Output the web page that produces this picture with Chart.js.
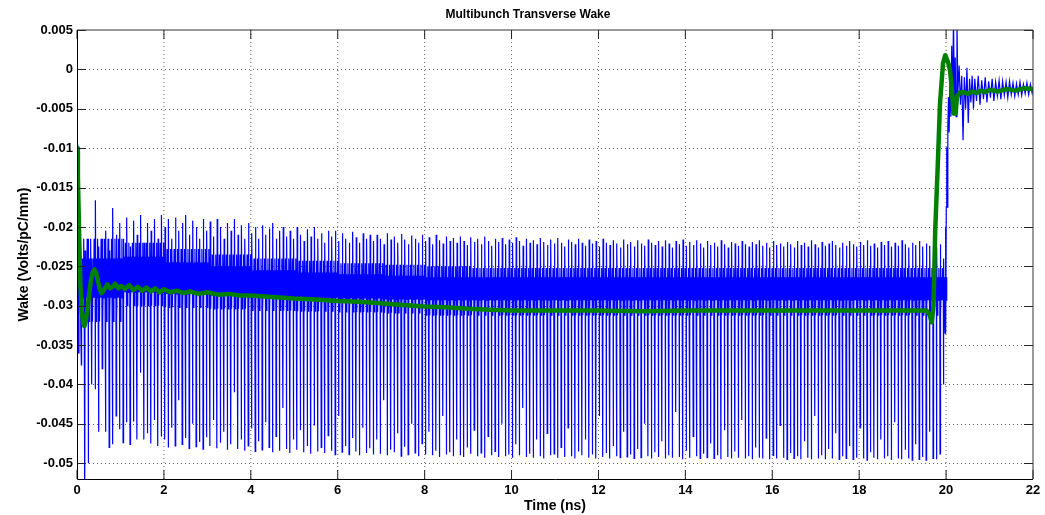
<!DOCTYPE html>
<html>
<head>
<meta charset="utf-8">
<script src="https://cdn.jsdelivr.net/npm/chart.js@4.4.1/dist/chart.umd.min.js"></script>
<style>
html,body{margin:0;padding:0;background:#fff;}
#wrap{width:1045px;height:515px;position:relative;}
canvas{display:block;}
</style>
</head>
<body>
<div id="wrap"><canvas id="c" width="1045" height="515"></canvas></div>
<script>
// ---------------- DATA ----------------
const chartTitle = 'Multibunch Transverse Wake';
const xAxisTitle = 'Time (ns)';
const yAxisTitle = 'Wake (Volts/pC/mm)';

const xTickValues = [0, 2, 4, 6, 8, 10, 12, 14, 16, 18, 20, 22];
const xTickLabels = ['0', '2', '4', '6', '8', '10', '12', '14', '16', '18', '20', '22'];
const yTickValues = [-0.05, -0.045, -0.04, -0.035, -0.03, -0.025, -0.02, -0.015, -0.01, -0.005, 0, 0.005];
const yTickLabels = ['-0.05', '-0.045', '-0.04', '-0.035', '-0.03', '-0.025', '-0.02', '-0.015', '-0.01', '-0.005', '0', '0.005'];

// blue wake: start of the trace (ns, V/pC/mm)
const blueHeadT = [0.000, 0.015, 0.030, 0.045, 0.060, 0.080];
const blueHeadV = [-0.0095, -0.0130, -0.0360, -0.0200, -0.0260, -0.0300];

// blue wake: bunch train (one down-spike and one up-spike per bunch)
const bunchStart = 0.10;    // ns, first bunch
const bunchSpacing = 0.08;  // ns
const bunchLow = [
 -0.0375,-0.0560,-0.0500,-0.0400,-0.0406,-0.0460,-0.0380,-0.0460,-0.0480,-0.0476,-0.0440,-0.0457,
 -0.0474,-0.0448,-0.0476,-0.0447,-0.0470,-0.0385,-0.0470,-0.0462,-0.0475,-0.0445,-0.0478,-0.0466,
 -0.0470,-0.0480,-0.0455,-0.0478,-0.0420,-0.0476,-0.0468,-0.0481,-0.0450,-0.0479,-0.0473,-0.0482,
 -0.0467,-0.0478,-0.0445,-0.0481,-0.0474,-0.0460,-0.0483,-0.0476,-0.0410,-0.0482,-0.0470,-0.0484,
 -0.0478,-0.0456,-0.0485,-0.0472,-0.0483,-0.0448,-0.0480,-0.0486,-0.0466,-0.0484,-0.0430,-0.0482,
 -0.0487,-0.0470,-0.0483,-0.0458,-0.0486,-0.0478,-0.0488,-0.0452,-0.0485,-0.0480,-0.0487,-0.0465,
 -0.0484,-0.0489,-0.0440,-0.0486,-0.0478,-0.0489,-0.0468,-0.0485,-0.0490,-0.0455,-0.0487,-0.0481,
 -0.0489,-0.0470,-0.0488,-0.0420,-0.0490,-0.0483,-0.0486,-0.0462,-0.0491,-0.0479,-0.0489,-0.0450,
 -0.0487,-0.0491,-0.0475,-0.0489,-0.0460,-0.0490,-0.0484,-0.0492,-0.0440,-0.0489,-0.0486,-0.0491,
 -0.0470,-0.0490,-0.0492,-0.0480,-0.0488,-0.0458,-0.0491,-0.0487,-0.0493,-0.0466,-0.0490,-0.0485,
 -0.0492,-0.0450,-0.0491,-0.0489,-0.0493,-0.0476,-0.0490,-0.0430,-0.0492,-0.0488,-0.0493,-0.0470,
 -0.0491,-0.0494,-0.0462,-0.0490,-0.0488,-0.0493,-0.0480,-0.0492,-0.0455,-0.0491,-0.0494,-0.0485,
 -0.0490,-0.0470,-0.0493,-0.0489,-0.0494,-0.0440,-0.0492,-0.0487,-0.0494,-0.0478,-0.0491,-0.0493,
 -0.0460,-0.0492,-0.0489,-0.0494,-0.0482,-0.0493,-0.0450,-0.0491,-0.0494,-0.0486,-0.0492,-0.0472,
 -0.0494,-0.0490,-0.0493,-0.0435,-0.0492,-0.0495,-0.0484,-0.0493,-0.0466,-0.0491,-0.0494,-0.0488,
 -0.0493,-0.0475,-0.0494,-0.0490,-0.0495,-0.0458,-0.0492,-0.0494,-0.0485,-0.0493,-0.0445,-0.0494,
 -0.0491,-0.0495,-0.0480,-0.0493,-0.0494,-0.0468,-0.0495,-0.0490,-0.0494,-0.0452,-0.0493,-0.0495,
 -0.0487,-0.0494,-0.0491,-0.0495,-0.0472,-0.0493,-0.0495,-0.0440,-0.0494,-0.0490,-0.0495,-0.0482,
 -0.0494,-0.0462,-0.0495,-0.0491,-0.0494,-0.0478,-0.0495,-0.0493,-0.0455,-0.0494,-0.0496,-0.0486,
 -0.0493,-0.0495,-0.0470,-0.0494,-0.0491,-0.0496,-0.0448,-0.0494,-0.0495,-0.0483,-0.0494,-0.0496,
 -0.0476,-0.0495,-0.0492,-0.0496,-0.0460,-0.0494,-0.0495,-0.0488,-0.0400
];
const bunchHigh = [
 -0.0240,-0.0230,-0.0215,-0.0250,-0.0166,-0.0225,-0.0215,-0.0205,-0.0230,-0.0176,-0.0210,-0.0195,
 -0.0215,-0.0188,-0.0225,-0.0192,-0.0210,-0.0185,-0.0220,-0.0195,-0.0205,-0.0190,-0.0215,-0.0185,
 -0.0200,-0.0190,-0.0215,-0.0188,-0.0205,-0.0195,-0.0185,-0.0210,-0.0192,-0.0200,-0.0215,-0.0190,
 -0.0205,-0.0193,-0.0212,-0.0190,-0.0200,-0.0215,-0.0195,-0.0205,-0.0190,-0.0210,-0.0198,-0.0215,
 -0.0195,-0.0208,-0.0200,-0.0215,-0.0198,-0.0210,-0.0202,-0.0195,-0.0215,-0.0205,-0.0200,-0.0212,
 -0.0205,-0.0215,-0.0200,-0.0210,-0.0218,-0.0203,-0.0212,-0.0200,-0.0215,-0.0208,-0.0220,-0.0205,
 -0.0212,-0.0205,-0.0218,-0.0208,-0.0215,-0.0220,-0.0206,-0.0213,-0.0220,-0.0208,-0.0215,-0.0210,
 -0.0218,-0.0210,-0.0215,-0.0222,-0.0208,-0.0216,-0.0212,-0.0220,-0.0209,-0.0216,-0.0222,-0.0211,
 -0.0215,-0.0220,-0.0210,-0.0218,-0.0213,-0.0222,-0.0210,-0.0217,-0.0221,-0.0212,-0.0218,-0.0214,
 -0.0220,-0.0212,-0.0218,-0.0223,-0.0213,-0.0219,-0.0215,-0.0222,-0.0212,-0.0218,-0.0224,-0.0215,
 -0.0219,-0.0214,-0.0222,-0.0216,-0.0220,-0.0213,-0.0218,-0.0224,-0.0215,-0.0220,-0.0217,-0.0222,
 -0.0214,-0.0219,-0.0223,-0.0216,-0.0221,-0.0214,-0.0220,-0.0225,-0.0216,-0.0219,-0.0222,-0.0215,
 -0.0220,-0.0224,-0.0216,-0.0221,-0.0218,-0.0225,-0.0215,-0.0220,-0.0223,-0.0217,-0.0221,-0.0226,
 -0.0216,-0.0222,-0.0219,-0.0225,-0.0217,-0.0221,-0.0224,-0.0216,-0.0220,-0.0223,-0.0218,-0.0225,
 -0.0217,-0.0221,-0.0226,-0.0218,-0.0222,-0.0216,-0.0224,-0.0219,-0.0223,-0.0217,-0.0221,-0.0226,
 -0.0218,-0.0223,-0.0220,-0.0225,-0.0217,-0.0222,-0.0226,-0.0219,-0.0221,-0.0224,-0.0218,-0.0222,
 -0.0225,-0.0219,-0.0222,-0.0217,-0.0224,-0.0220,-0.0226,-0.0218,-0.0223,-0.0221,-0.0225,-0.0219,
 -0.0222,-0.0226,-0.0218,-0.0223,-0.0220,-0.0225,-0.0217,-0.0222,-0.0226,-0.0219,-0.0224,-0.0221,
 -0.0218,-0.0223,-0.0226,-0.0220,-0.0224,-0.0218,-0.0222,-0.0225,-0.0219,-0.0223,-0.0217,-0.0224,
 -0.0221,-0.0226,-0.0219,-0.0223,-0.0218,-0.0225,-0.0220,-0.0224,-0.0217,-0.0222,-0.0226,-0.0220,
 -0.0223,-0.0218,-0.0225,-0.0221,-0.0224,-0.0219,-0.0226,-0.0222,-0.0240
];
// blue wake: ringing band between bunches, one value per ns (0..19 ns)
const bandOuterHi = [-0.0215,-0.0220,-0.0228,-0.0235,-0.0240,-0.0243,-0.0246,-0.0248,-0.0250,-0.0252,-0.0252,-0.0252,-0.0252,-0.0252,-0.0252,-0.0252,-0.0252,-0.0252,-0.0252,-0.0252];
const bandInnerHi = [-0.0240,-0.0238,-0.0245,-0.0250,-0.0255,-0.0258,-0.0260,-0.0262,-0.0264,-0.0264,-0.0264,-0.0264,-0.0264,-0.0264,-0.0264,-0.0264,-0.0264,-0.0264,-0.0264,-0.0264];
const bandInnerLo = [-0.0290,-0.0283,-0.0285,-0.0287,-0.0289,-0.0290,-0.0291,-0.0292,-0.0293,-0.0293,-0.0293,-0.0293,-0.0293,-0.0293,-0.0293,-0.0293,-0.0293,-0.0293,-0.0293,-0.0293];
const bandOuterLo = [-0.0320,-0.0300,-0.0302,-0.0304,-0.0306,-0.0307,-0.0308,-0.0309,-0.0312,-0.0312,-0.0312,-0.0312,-0.0312,-0.0312,-0.0312,-0.0312,-0.0312,-0.0312,-0.0312,-0.0312];

// blue wake: after the train
const blueTailT = [19.960,19.975,19.985,19.995,20.005,20.015,20.025,20.040,20.055,20.070,20.090,20.110,20.130,20.150,20.170,20.190,20.210,20.230,20.250,20.270,20.300,20.330,20.360,20.390,20.420,20.450,20.480,20.510,20.540,20.570,20.600,20.630,20.660,20.700,20.740,20.780,20.820,20.860,20.900,20.940,20.980,21.020,21.060,21.100,21.140,21.180,21.220,21.260,21.300,21.340,21.380,21.420,21.460,21.500,21.540,21.580,21.620,21.660,21.700,21.740,21.780,21.820,21.860,21.900,21.940,21.980,22.000];
const blueTailV = [-0.0300,-0.0335,-0.0200,-0.0335,-0.0175,-0.0099,-0.0175,-0.0073,-0.0035,-0.0080,-0.0010,-0.0060,0.0030,-0.0055,0.0070,-0.0040,0.0015,-0.0060,0.0065,-0.0030,0.0005,-0.0045,-0.0008,-0.0090,-0.0010,-0.0050,0.0002,-0.0068,-0.0012,-0.0042,-0.0008,-0.0050,-0.0012,-0.0040,-0.0008,-0.0045,-0.0014,-0.0038,-0.0010,-0.0042,-0.0015,-0.0036,-0.0012,-0.0040,-0.0016,-0.0034,-0.0014,-0.0038,-0.0015,-0.0033,-0.0016,-0.0036,-0.0015,-0.0032,-0.0017,-0.0034,-0.0018,-0.0032,-0.0016,-0.0033,-0.0019,-0.0031,-0.0017,-0.0032,-0.0019,-0.0030,-0.0024];

// green wake (averaged)
const greenT = [0.00,0.02,0.04,0.06,0.08,0.11,0.14,0.17,0.20,0.24,0.28,0.32,0.36,0.40,0.44,0.48,0.52,0.56,0.60,0.65,0.70,0.76,0.82,0.88,0.95,1.02,1.10,1.20,1.30,1.40,1.50,1.60,1.70,1.80,1.90,2.00,2.15,2.30,2.45,2.60,2.80,3.00,3.25,3.50,3.75,4.00,4.50,5.00,5.50,6.00,6.50,7.00,7.50,8.00,8.50,9.00,9.50,10.0,11.0,12.0,13.0,14.0,15.0,16.0,17.0,18.0,19.0,19.55,19.62,19.67,19.71,19.75,19.81,19.86,19.93,19.98,20.04,20.09,20.13,20.17,20.22,20.25,20.32,20.40,20.50,20.60,20.70,20.80,20.90,21.00,21.20,21.40,21.60,21.80,22.00];
const greenV = [-0.0100,-0.0135,-0.0185,-0.0235,-0.0275,-0.0308,-0.0322,-0.0326,-0.0320,-0.0305,-0.0285,-0.0268,-0.0258,-0.0254,-0.0258,-0.0268,-0.0278,-0.0284,-0.0282,-0.0277,-0.0273,-0.0278,-0.0276,-0.0272,-0.0278,-0.0275,-0.0279,-0.0274,-0.0280,-0.0276,-0.0281,-0.0277,-0.0282,-0.0278,-0.0283,-0.0279,-0.0283,-0.0281,-0.0284,-0.0282,-0.0285,-0.0283,-0.0286,-0.0285,-0.0287,-0.0287,-0.0289,-0.0291,-0.0292,-0.0294,-0.0295,-0.0297,-0.0299,-0.0301,-0.0302,-0.0304,-0.0305,-0.0306,-0.0306,-0.0306,-0.0307,-0.0306,-0.0306,-0.0306,-0.0306,-0.0306,-0.0306,-0.0306,-0.0312,-0.0321,-0.0300,-0.0204,-0.0119,-0.0043,0.0008,0.0018,0.0010,-0.0001,-0.0023,-0.0056,-0.0056,-0.0035,-0.0029,-0.0029,-0.0031,-0.0028,-0.0030,-0.0027,-0.0029,-0.0026,-0.0028,-0.0025,-0.0027,-0.0024,-0.0025];

// ---------------- BUILD ----------------
const bluePts = [];
blueHeadT.forEach((t, i) => bluePts.push({x: t, y: blueHeadV[i]}));
const nB = Math.min(bunchLow.length, bunchHigh.length);
for (let k = 0; k < nB; k++) {
  const t = bunchStart + k * bunchSpacing;
  const s = Math.min(Math.floor(t), bandOuterHi.length - 1);
  bluePts.push({x: t, y: bunchLow[k]});
  bluePts.push({x: t + 0.006, y: bunchHigh[k]});
  bluePts.push({x: t + 0.018, y: bandOuterLo[s]});
  bluePts.push({x: t + 0.030, y: bandInnerHi[s]});
  bluePts.push({x: t + 0.042, y: bandInnerLo[s]});
  bluePts.push({x: t + 0.054, y: bandOuterHi[s]});
  bluePts.push({x: t + 0.066, y: bandInnerLo[s]});
  bluePts.push({x: t + 0.075, y: bandInnerHi[s]});
}
blueTailT.forEach((t, i) => bluePts.push({x: t, y: blueTailV[i]}));
const greenPts = greenT.map((t, i) => ({x: t, y: greenV[i]}));

const FONT = 'Liberation Sans, Arial, Helvetica, sans-serif';
Chart.defaults.font.family = FONT;
Chart.defaults.color = '#000';

const matlabAxes = {
  id: 'matlabAxes',
  beforeDatasetsDraw(chart) {
    const {ctx, chartArea: a, scales: {x, y}} = chart;
    ctx.save();
    ctx.strokeStyle = 'rgba(40,40,40,0.75)';
    ctx.lineWidth = 1;
    ctx.setLineDash([1, 3]);
    xTickValues.forEach(v => {
      const px = x.getPixelForValue(v);
      if (px <= a.left + 1 || px >= a.right - 1) return;
      ctx.beginPath(); ctx.moveTo(px, a.top); ctx.lineTo(px, a.bottom); ctx.stroke();
    });
    yTickValues.forEach(v => {
      const py = Math.round(y.getPixelForValue(v)) + 0.5;
      if (py <= a.top + 1 || py >= a.bottom - 1) return;
      ctx.beginPath(); ctx.moveTo(a.left, py); ctx.lineTo(a.right, py); ctx.stroke();
    });
    ctx.restore();
  },
  afterDatasetsDraw(chart) {
    const {ctx, chartArea: a, scales: {x, y}} = chart;
    const tl = 9;
    ctx.save();
    ctx.strokeStyle = '#222';
    ctx.lineWidth = 1;
    xTickValues.forEach(v => {
      const px = x.getPixelForValue(v);
      ctx.beginPath(); ctx.moveTo(px, a.bottom); ctx.lineTo(px, a.bottom - tl); ctx.stroke();
      ctx.beginPath(); ctx.moveTo(px, a.top); ctx.lineTo(px, a.top + tl); ctx.stroke();
    });
    yTickValues.forEach(v => {
      const py = Math.round(y.getPixelForValue(v)) + 0.5;
      ctx.beginPath(); ctx.moveTo(a.left, py); ctx.lineTo(a.left + tl, py); ctx.stroke();
      ctx.beginPath(); ctx.moveTo(a.right, py); ctx.lineTo(a.right - tl, py); ctx.stroke();
    });
    // box
    ctx.strokeStyle = '#000';
    ctx.beginPath(); ctx.moveTo(a.left + 0.5, a.top); ctx.lineTo(a.left + 0.5, a.bottom + 0.5); ctx.lineTo(a.right, a.bottom + 0.5); ctx.stroke();
    ctx.strokeStyle = '#333';
    ctx.beginPath(); ctx.moveTo(a.left, a.top); ctx.lineTo(a.right, a.top); ctx.lineTo(a.right, a.bottom); ctx.stroke();
    ctx.restore();
  }
};

new Chart(document.getElementById('c'), {
  type: 'line',
  data: {
    datasets: [
      {label: 'Average wake', data: greenPts, borderColor: '#008000', borderWidth: 4.5, pointRadius: 0, tension: 0, borderJoinStyle: 'round', borderCapStyle: 'round', order: 0},
      {label: 'Wake', data: bluePts, borderColor: '#0000ff', borderWidth: 1.2, pointRadius: 0, tension: 0, order: 1}
    ]
  },
  options: {
    responsive: false,
    animation: false,
    devicePixelRatio: 1,
    parsing: false,
    normalized: true,
    events: [],
    layout: {padding: {left: 23, right: 12, top: 0, bottom: 0}},
    plugins: {
      legend: {display: false},
      tooltip: {enabled: false},
      title: {
        display: true, text: chartTitle, fullSize: true, color: '#000',
        font: {family: FONT, size: 12, weight: 'bold', lineHeight: 1.2},
        padding: {top: 7, bottom: 8.6}
      }
    },
    scales: {
      x: {
        type: 'linear', min: 0, max: 22,
        afterBuildTicks: s => { s.ticks = xTickValues.map(v => ({value: v})); },
        afterFit: s => { s.height = 36; },
        ticks: {
          autoSkip: false, maxRotation: 0, padding: 4, color: '#000',
          font: {family: FONT, size: 13, weight: 'bold'},
          callback: (v, i) => xTickLabels[i]
        },
        grid: {display: false, drawTicks: false},
        border: {display: false},
        title: {display: true, text: xAxisTitle, color: '#000', font: {family: FONT, size: 14, weight: 'bold', lineHeight: 1.2}, padding: {top: 0, bottom: 0.6}}
      },
      y: {
        type: 'linear', min: -0.052, max: 0.005,
        afterBuildTicks: s => { s.ticks = yTickValues.map(v => ({value: v})); },
        afterFit: s => { s.width = 54; },
        ticks: {
          autoSkip: false, padding: 4, color: '#000',
          font: {family: FONT, size: 13, weight: 'bold'},
          callback: (v, i) => yTickLabels[i]
        },
        grid: {display: false, drawTicks: false},
        border: {display: false},
        title: {display: true, text: yAxisTitle, color: '#000', font: {family: FONT, size: 14, weight: 'bold', lineHeight: 1.2}, padding: {top: -7.4, bottom: 0}}
      }
    }
  },
  plugins: [matlabAxes]
});
</script>
</body>
</html>
